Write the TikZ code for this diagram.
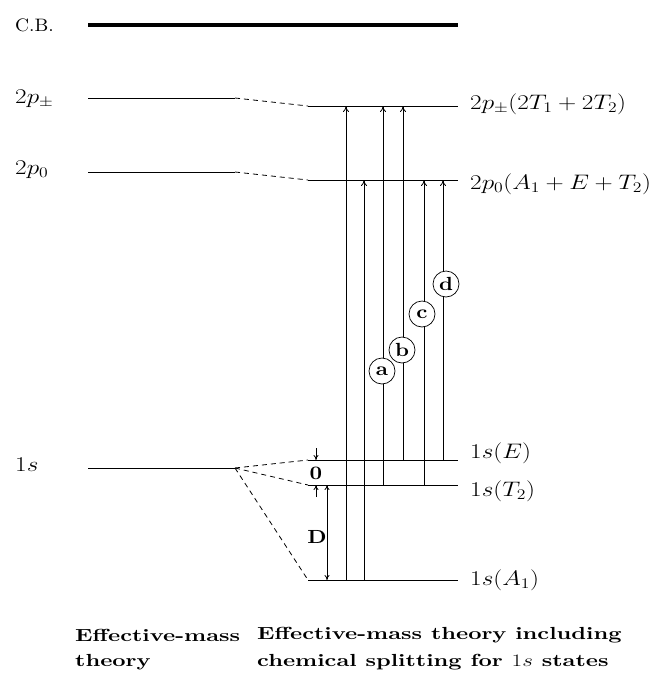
\documentclass[tikz,border=0pt]{standalone}
\usepackage{fix-cm}
\usepackage{graphicx}
\usepackage{fontspec}
\setmainfont{lmroman10}[Extension=.otf, UprightFont=*-regular, BoldFont=*-bold, ItalicFont=*-italic, BoldItalicFont=*-bolditalic]
\newcommand{\wm}[1]{\scalebox{1.2}[1]{$#1$}}
\newcommand{\wt}[1]{\scalebox{1.32}[1]{#1}}
\usetikzlibrary{arrows.meta}
\begin{document}
\begin{tikzpicture}[x=1pt,y=-1pt,
  every node/.style={font=\fontsize{21}{25}\selectfont, inner sep=0pt},
  lev/.style={line width=0.9pt},
  link/.style={line width=0.8pt, dash pattern=on 5pt off 4pt},
  tr/.style={line width=0.8pt, -{To[length=6pt,width=6pt]}},
  dim/.style={line width=0.8pt, -{To[length=5pt,width=5pt]}},
  lab/.style={anchor=west},
  captext/.style={anchor=west, font=\fontsize{17.5}{21}\selectfont\bfseries},
  tag/.style={circle, draw, line width=0.7pt, minimum size=26pt, font=\fontsize{19}{23}\selectfont\bfseries, fill=white}]
\useasboundingbox (0,0) rectangle (653,681);
% conduction band
\node[lab, font=\fontsize{18}{22}\selectfont] (cb) at (15,25) {\scalebox{1.08}[1]{C.B.}};
\coordinate (cbL) at (88,25);
\coordinate (cbR) at (458,25);
\draw[line width=4.5pt] (cbL) -- (cbR);
% left levels
\coordinate (pmL1) at (88,98);  \coordinate (pmL2) at (235,98);
\coordinate (p0L1) at (88,172); \coordinate (p0L2) at (235,172);
\coordinate (sL1) at (88,468);  \coordinate (sL2) at (235,468);
\draw[lev] (pmL1) -- (pmL2);
\draw[lev] (p0L1) -- (p0L2);
\draw[lev] (sL1) -- (sL2);
\node[lab] (lpm) at (15,99) {\wm{2p_\pm}};
\node[lab] (lp0) at (15,170) {\wm{2p_0}};
\node[lab] (ls) at (15,465) {\wm{1s}};
% right levels
\coordinate (pmR1) at (308,106); \coordinate (pmR2) at (458,106);
\coordinate (p0R1) at (308,180); \coordinate (p0R2) at (458,180);
\coordinate (eR1) at (308,460);  \coordinate (eR2) at (458,460);
\coordinate (tR1) at (308,485);  \coordinate (tR2) at (458,485);
\coordinate (aR1) at (308,580);  \coordinate (aR2) at (458,580);
\foreach \a/\b in {pmR1/pmR2,p0R1/p0R2,eR1/eR2,tR1/tR2,aR1/aR2}
  \draw[lev] (\a) -- (\b);
\node[lab] (rpm) at (470,104) {\wm{2p_\pm(2T_1+2T_2)}};
\node[lab] (rp0) at (470,184) {\wm{2p_0(A_1+E+T_2)}};
\node[lab] (re) at (470,453) {\wm{1s(E)}};
\node[lab] (rt) at (470,491) {\wm{1s(T_2)}};
\node[lab] (ra) at (470,580) {\wm{1s(A_1)}};
% dashed links
\draw[link] (pmL2) -- (pmR1);
\draw[link] (p0L2) -- (p0R1);
\draw[link] (sL2) -- (eR1);
\draw[link] (sL2) -- (tR1);
\draw[link] (sL2) -- (aR1);
% transitions
\draw[tr] (346,0 |- aR1) -- (346,0 |- pmR1);
\draw[tr] (364,0 |- aR1) -- (364,0 |- p0R1);
\draw[tr] (383,0 |- tR1) -- (383,0 |- pmR1);
\draw[tr] (403,0 |- eR1) -- (403,0 |- pmR1);
\draw[tr] (424,0 |- tR1) -- (424,0 |- p0R1);
\draw[tr] (443,0 |- eR1) -- (443,0 |- p0R1);
% tags
\node[tag] (ta) at (382,371) {\scalebox{1.15}[1]{a}};
\node[tag] (tb) at (402,350) {\scalebox{1.15}[1]{b}};
\node[tag] (tc) at (422,314) {\scalebox{1.15}[1]{c}};
\node[tag] (td) at (446,284) {\scalebox{1.15}[1]{d}};
% splittings
\coordinate (d0top) at (316,448);
\coordinate (d0bot) at (316,497);
\draw[dim] (d0top) -- (316,0 |- eR1);
\draw[dim] (d0bot) -- (316,0 |- tR1);
\node[font=\fontsize{19}{23}\selectfont\bfseries] (z) at (316,473) {\scalebox{1.15}[1]{0}};
\draw[dim, {To[length=5pt,width=5pt]}-{To[length=5pt,width=5pt]}] (327,0 |- tR1) -- (327,0 |- aR1);
\node[font=\fontsize{19}{23}\selectfont\bfseries] (dd) at (317,537) {\scalebox{1.15}[1]{D}};
% captions
\node[captext] (c1a) at (75,635) {\wt{Effective-mass}};
\node[captext] (c1b) at (75,662) {\wt{theory}};
\node[captext] (c2a) at (257,635) {\wt{Effective-mass theory including}};
\node[captext] (c2b) at (257,662) {\wt{chemical splitting for $1s$ states}};
\end{tikzpicture}
\end{document}
